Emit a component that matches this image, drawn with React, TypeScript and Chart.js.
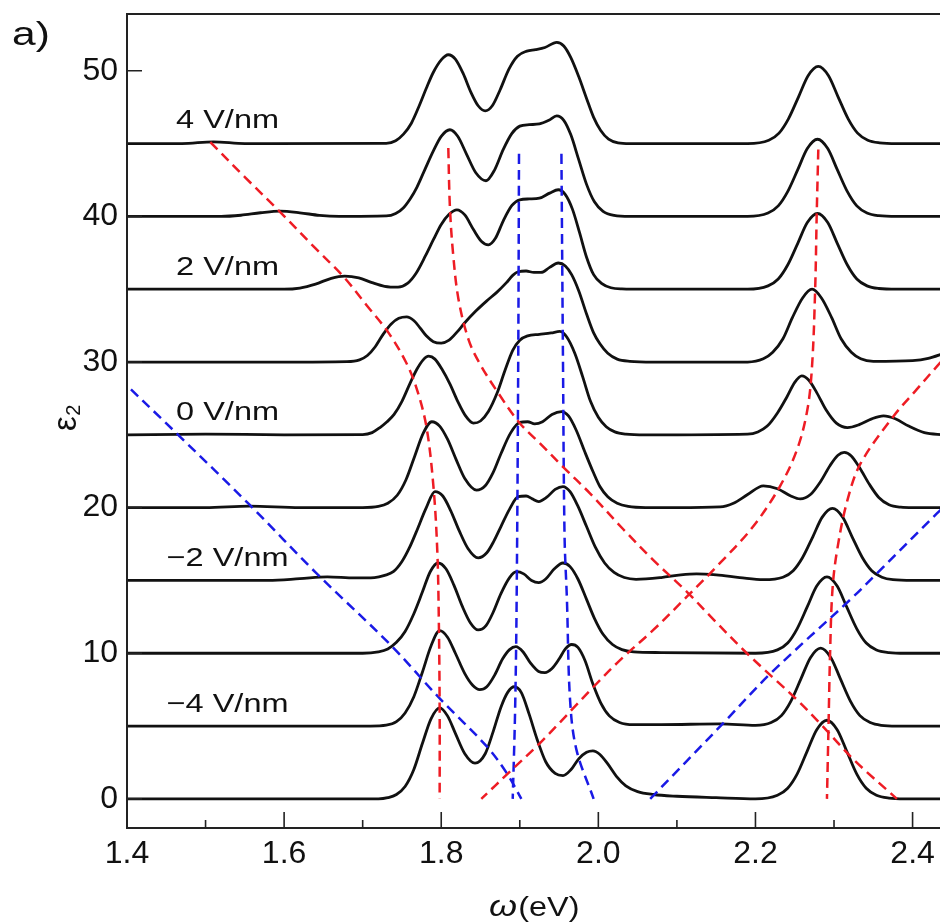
import React, { useEffect, useRef } from "react";
import { Chart, registerables } from "chart.js";

Chart.register(...registerables);

type Pt = [number, number];

// ---- axis ranges & ticks ----
const X_MIN = 1.4;
const X_MAX = 2.44;
const Y_MIN = -2;
const Y_MAX = 53.9;
const xTickValues = [1.4, 1.6, 1.8, 2.0, 2.2, 2.4];
const xMinorTickValues = [1.5, 1.7, 1.9, 2.1, 2.3];
const yTickValues = [0, 10, 20, 30, 40, 50];

// ---- ε2 spectra (plotted with vertical offset of 5 per field step) ----
const fieldM5: Pt[] = [
  [1.40, 0], [1.72, 0], [1.732, 0.08], [1.743, 0.3], [1.754, 0.85], [1.765, 2.0], [1.776, 3.8],
  [1.787, 5.5], [1.798, 6.25], [1.808, 5.7], [1.818, 4.5], [1.83, 3.1], [1.843, 2.45], [1.856, 3.1],
  [1.866, 4.6], [1.876, 6.3], [1.885, 7.35], [1.893, 7.7], [1.902, 7.3], [1.912, 5.8], [1.922, 4.1],
  [1.933, 2.55], [1.945, 1.75], [1.955, 1.6], [1.965, 2.0], [1.975, 2.75], [1.985, 3.2], [1.993, 3.3],
  [2.002, 3.05], [2.012, 2.4], [2.023, 1.55], [2.035, 0.9], [2.05, 0.5], [2.07, 0.3], [2.10, 0.18],
  [2.15, 0.08], [2.20, 0.0], [2.228, 0.25], [2.241, 0.73], [2.253, 1.7], [2.266, 3.3], [2.278, 4.75],
  [2.291, 5.4], [2.304, 4.75], [2.316, 3.3], [2.329, 1.7], [2.341, 0.73], [2.354, 0.25], [2.37, 0.05],
  [2.39, 0], [2.44, 0],
];
const fieldM4: Pt[] = [
  [1.40, 5], [1.71, 5], [1.73, 5.06], [1.743, 5.3], [1.754, 5.9], [1.765, 7.0], [1.776, 8.7],
  [1.787, 10.5], [1.798, 11.55], [1.808, 11.1], [1.818, 10.0], [1.83, 8.6], [1.84, 7.8], [1.849, 7.5],
  [1.858, 7.7], [1.868, 8.5], [1.878, 9.6], [1.887, 10.25], [1.895, 10.45], [1.904, 10.1], [1.914, 9.3],
  [1.924, 8.75], [1.932, 8.67], [1.941, 8.95], [1.95, 9.6], [1.958, 10.3], [1.966, 10.6], [1.974, 10.4],
  [1.983, 9.5], [1.993, 7.9], [2.003, 6.6], [2.014, 5.7], [2.027, 5.25], [2.045, 5.1], [2.08, 5.1],
  [2.155, 5.15], [2.2, 5.05], [2.22, 5.24], [2.233, 5.72], [2.245, 6.7], [2.258, 8.26], [2.27, 9.7],
  [2.283, 10.35], [2.296, 9.7], [2.308, 8.26], [2.321, 6.7], [2.333, 5.72], [2.346, 5.24], [2.36, 5.05],
  [2.38, 5], [2.44, 5],
];
const fieldM3: Pt[] = [
  [1.40, 10], [1.70, 10], [1.72, 10.1], [1.732, 10.3], [1.743, 10.75], [1.754, 11.5], [1.765, 12.7],
  [1.776, 14.2], [1.786, 15.6], [1.796, 16.2], [1.806, 15.8], [1.816, 14.7], [1.827, 13.2], [1.837, 12.1],
  [1.847, 11.6], [1.857, 11.9], [1.866, 12.8], [1.876, 14.1], [1.887, 15.2], [1.896, 15.6], [1.905, 15.45],
  [1.915, 15.0], [1.924, 14.85], [1.933, 15.1], [1.944, 15.8], [1.955, 16.2], [1.964, 15.95], [1.974, 15.1],
  [1.985, 13.7], [1.995, 12.4], [2.006, 11.3], [2.018, 10.6], [2.03, 10.25], [2.045, 10.1], [2.08, 10.05],
  [2.20, 10.0], [2.228, 10.23], [2.241, 10.7], [2.253, 11.68], [2.266, 13.2], [2.278, 14.62], [2.291, 15.25],
  [2.304, 14.62], [2.316, 13.2], [2.329, 11.68], [2.341, 10.7], [2.354, 10.23], [2.37, 10.05], [2.39, 10],
  [2.44, 10],
];
const fieldM2: Pt[] = [
  [1.40, 15], [1.58, 15], [1.62, 15.12], [1.655, 15.25], [1.69, 15.18], [1.715, 15.2], [1.728, 15.35],
  [1.739, 15.6], [1.75, 16.3], [1.76, 17.3], [1.768, 18.3], [1.781, 20.0], [1.792, 21.1], [1.802, 20.8],
  [1.812, 19.8], [1.823, 18.4], [1.834, 17.2], [1.847, 16.55], [1.858, 16.9], [1.867, 17.7], [1.876, 18.7],
  [1.887, 19.9], [1.898, 20.75], [1.908, 20.8], [1.916, 20.6], [1.924, 20.42], [1.934, 20.7], [1.945, 21.25],
  [1.955, 21.45], [1.964, 21.1], [1.974, 20.1], [1.985, 18.7], [1.996, 17.3], [2.008, 16.2], [2.02, 15.55],
  [2.033, 15.2], [2.048, 15.08], [2.08, 15.2], [2.105, 15.38], [2.125, 15.45], [2.15, 15.38], [2.18, 15.2],
  [2.21, 15.05], [2.235, 15.22], [2.248, 15.67], [2.26, 16.58], [2.273, 18.0], [2.285, 19.35], [2.298, 19.95],
  [2.311, 19.35], [2.323, 18.0], [2.336, 16.58], [2.348, 15.67], [2.361, 15.22], [2.375, 15.05], [2.40, 15],
  [2.44, 15],
];
const fieldM1: Pt[] = [
  [1.40, 20], [1.50, 20], [1.556, 20.1], [1.62, 20.0], [1.70, 20], [1.72, 20.08], [1.732, 20.3],
  [1.744, 20.85], [1.755, 21.9], [1.766, 23.5], [1.777, 25.1], [1.788, 25.9], [1.798, 25.6], [1.808, 24.7],
  [1.819, 23.3], [1.83, 22.0], [1.845, 21.2], [1.856, 21.5], [1.866, 22.4], [1.876, 23.7], [1.888, 25.1],
  [1.90, 25.85], [1.91, 25.9], [1.919, 25.75], [1.929, 25.9], [1.941, 26.4], [1.953, 26.6], [1.962, 26.3],
  [1.972, 25.3], [1.983, 23.8], [1.993, 22.5], [2.002, 21.45], [2.012, 20.75], [2.024, 20.3], [2.038, 20.08],
  [2.06, 20.0], [2.10, 20], [2.155, 20.05], [2.172, 20.3], [2.19, 20.9], [2.21, 21.5], [2.228, 21.3],
  [2.245, 20.8], [2.257, 20.6], [2.27, 20.9], [2.283, 21.8], [2.295, 22.9], [2.305, 23.6], [2.313, 23.8],
  [2.322, 23.55], [2.333, 22.7], [2.345, 21.6], [2.357, 20.7], [2.37, 20.2], [2.385, 20.03], [2.40, 20],
  [2.44, 20],
];
const field0: Pt[] = [
  [1.40, 25], [1.50, 25.05], [1.60, 25], [1.70, 25.02], [1.712, 25.15], [1.722, 25.5], [1.731, 25.9],
  [1.74, 26.4], [1.75, 27.3], [1.76, 28.5], [1.769, 29.5], [1.777, 30.15], [1.784, 30.4], [1.792, 30.2],
  [1.801, 29.5], [1.811, 28.5], [1.821, 27.3], [1.831, 26.3], [1.841, 25.8], [1.85, 25.95], [1.86, 26.6],
  [1.871, 27.85], [1.881, 29.4], [1.891, 30.8], [1.90, 31.5], [1.91, 31.8], [1.925, 31.9], [1.94, 32.0],
  [1.951, 32.1], [1.96, 31.7], [1.97, 30.6], [1.98, 29.0], [1.99, 27.3], [2.0, 26.2], [2.01, 25.55],
  [2.021, 25.2], [2.035, 25.05], [2.06, 25], [2.19, 25.05], [2.203, 25.2], [2.215, 25.6], [2.228, 26.5],
  [2.24, 27.6], [2.25, 28.6], [2.259, 29.05], [2.268, 28.75], [2.278, 27.9], [2.29, 26.7], [2.303, 25.8],
  [2.317, 25.5], [2.332, 25.7], [2.348, 26.1], [2.363, 26.3], [2.378, 26.1], [2.395, 25.6], [2.415, 25.15],
  [2.44, 25.0],
];
const fieldP1: Pt[] = [
  [1.40, 30], [1.60, 30], [1.68, 30.03], [1.696, 30.15], [1.706, 30.45], [1.716, 31.05], [1.726, 31.9],
  [1.736, 32.6], [1.746, 33.0], [1.756, 33.1], [1.765, 32.85], [1.773, 32.35], [1.781, 31.8], [1.79, 31.4],
  [1.80, 31.3], [1.81, 31.5], [1.82, 32.05], [1.83, 32.7], [1.844, 33.5], [1.858, 34.2], [1.871, 34.8],
  [1.883, 35.45], [1.891, 35.95], [1.898, 36.2], [1.908, 36.25], [1.918, 36.15], [1.927, 36.15], [1.938, 36.5],
  [1.949, 36.8], [1.958, 36.6], [1.966, 36.0], [1.975, 34.9], [1.985, 33.3], [1.994, 32.0], [2.002, 31.25],
  [2.012, 30.6], [2.024, 30.2], [2.04, 30.05], [2.07, 30], [2.19, 30], [2.21, 30.22], [2.222, 30.67],
  [2.235, 31.6], [2.247, 33.05], [2.26, 34.4], [2.272, 35.0], [2.284, 34.4], [2.297, 33.05], [2.309, 31.6],
  [2.322, 30.67], [2.334, 30.22], [2.35, 30.05], [2.40, 30.1], [2.42, 30.25], [2.44, 30.6],
];
const fieldP2: Pt[] = [
  [1.40, 35], [1.60, 35], [1.62, 35.08], [1.64, 35.35], [1.66, 35.75], [1.677, 35.9], [1.695, 35.78],
  [1.712, 35.45], [1.728, 35.2], [1.745, 35.14], [1.757, 35.4], [1.768, 36.1], [1.78, 37.3], [1.79, 38.4],
  [1.80, 39.45], [1.81, 40.15], [1.82, 40.45], [1.83, 40.1], [1.841, 39.1], [1.851, 38.3], [1.86, 38.05],
  [1.869, 38.5], [1.879, 39.7], [1.89, 40.75], [1.90, 41.14], [1.912, 41.2], [1.925, 41.25], [1.938, 41.6],
  [1.949, 41.83], [1.958, 41.5], [1.967, 40.5], [1.976, 38.9], [1.985, 37.2], [1.994, 36.0], [2.004, 35.4],
  [2.016, 35.1], [2.03, 35.02], [2.06, 35], [2.19, 35], [2.216, 35.23], [2.229, 35.7], [2.241, 36.66],
  [2.254, 38.17], [2.266, 39.58], [2.279, 40.2], [2.292, 39.58], [2.304, 38.17], [2.317, 36.66], [2.329, 35.7],
  [2.342, 35.23], [2.357, 35.05], [2.38, 35], [2.44, 35],
];
const fieldP3: Pt[] = [
  [1.40, 40], [1.52, 40], [1.545, 40.08], [1.57, 40.25], [1.595, 40.36], [1.62, 40.25], [1.645, 40.07],
  [1.67, 40], [1.73, 40.03], [1.742, 40.2], [1.752, 40.6], [1.761, 41.25], [1.769, 42.0], [1.779, 43.2],
  [1.79, 44.5], [1.80, 45.5], [1.811, 45.95], [1.821, 45.5], [1.832, 44.3], [1.844, 43.0], [1.857, 42.45],
  [1.868, 43.2], [1.879, 44.6], [1.89, 45.7], [1.90, 46.2], [1.912, 46.3], [1.925, 46.35], [1.937, 46.6],
  [1.947, 46.9], [1.956, 46.6], [1.965, 45.6], [1.975, 43.9], [1.985, 42.2], [1.995, 41.0], [2.006, 40.35],
  [2.02, 40.07], [2.04, 40], [2.19, 40], [2.216, 40.23], [2.229, 40.72], [2.241, 41.7], [2.254, 43.23],
  [2.266, 44.66], [2.279, 45.3], [2.292, 44.66], [2.304, 43.23], [2.317, 41.7], [2.329, 40.72], [2.342, 40.23],
  [2.357, 40.05], [2.38, 40], [2.44, 40],
];
const fieldP4: Pt[] = [
  [1.40, 45], [1.47, 45.0], [1.51, 45.12], [1.55, 45.0], [1.73, 45.02], [1.742, 45.2], [1.752, 45.65],
  [1.762, 46.4], [1.772, 47.6], [1.781, 48.8], [1.79, 49.9], [1.80, 50.75], [1.809, 51.1], [1.818, 50.8],
  [1.828, 49.8], [1.838, 48.5], [1.847, 47.6], [1.856, 47.25], [1.865, 47.6], [1.875, 48.7], [1.886, 50.1],
  [1.897, 51.0], [1.909, 51.35], [1.92, 51.45], [1.932, 51.6], [1.947, 51.95], [1.956, 51.7], [1.965, 50.9],
  [1.975, 49.6], [1.985, 48.1], [1.994, 46.8], [2.003, 45.9], [2.013, 45.3], [2.025, 45.05], [2.04, 45],
  [2.19, 45], [2.217, 45.23], [2.23, 45.72], [2.242, 46.7], [2.255, 48.23], [2.267, 49.66], [2.28, 50.3],
  [2.293, 49.66], [2.305, 48.23], [2.318, 46.7], [2.33, 45.72], [2.343, 45.23], [2.358, 45.05], [2.38, 45],
  [2.44, 45],
];

// ---- peak-tracking guide lines ----
const redTrack1: Pt[] = [
  [1.506, 45.1], [1.55, 42.7], [1.595, 40.3], [1.64, 37.8], [1.675, 35.9], [1.705, 33.9], [1.733, 32.0],
  [1.755, 30.0], [1.768, 28.3], [1.781, 25.6], [1.79, 21.5], [1.795, 17], [1.797, 12], [1.798, 6], [1.798, 0],
];
const redTrack2: Pt[] = [
  [1.809, 44.7], [1.811, 40.7], [1.815, 37.5], [1.822, 34.3], [1.835, 31.5], [1.849, 29.9], [1.871, 28.0],
  [1.90, 25.8], [1.926, 24.4], [1.955, 22.8], [1.989, 21.0], [2.032, 18.5], [2.07, 16.4], [2.113, 14.2],
  [2.147, 12.3], [2.189, 10.0], [2.253, 6.8], [2.282, 5.2], [2.325, 2.7], [2.38, 0],
];
const redTrack3: Pt[] = [
  [2.280, 44.6], [2.278, 40.2], [2.276, 35.0], [2.272, 29.7], [2.266, 26.7], [2.253, 24.0], [2.231, 21.45],
  [2.197, 18.7], [2.155, 16.2], [2.113, 13.9], [2.07, 11.6], [2.028, 9.55], [1.994, 7.7], [1.926, 3.85],
  [1.888, 1.9], [1.851, 0],
];
const redTrack4: Pt[] = [
  [2.45, 30.8], [2.431, 29.7], [2.405, 28.1], [2.376, 26.3], [2.334, 23.05], [2.317, 20.5], [2.304, 17.1],
  [2.298, 14.35], [2.295, 10], [2.293, 5], [2.291, 0],
];
const blueTrack1: Pt[] = [
  [1.39, 28.9], [1.467, 24.9], [1.556, 20.2], [1.641, 15.5], [1.735, 10.6], [1.798, 6.9], [1.858, 3.6],
  [1.883, 1.8], [1.902, 0],
];
const blueTrack2: Pt[] = [[1.899, 44.3], [1.898, 30], [1.896, 13.7], [1.894, 6], [1.891, 0]];
const blueTrack3: Pt[] = [
  [1.953, 44.3], [1.955, 30], [1.957, 18], [1.960, 13.7], [1.964, 6.8], [1.972, 3.4], [1.994, 0],
];
const blueTrack4: Pt[] = [
  [2.066, 0], [2.159, 5.2], [2.219, 8.6], [2.321, 13.7], [2.355, 15.5], [2.431, 19.6], [2.45, 20.5],
];

// ---- field annotations ----
const fieldLabels = ["4 V/nm", "2 V/nm", "0 V/nm", "\u22122 V/nm", "\u22124 V/nm"];
const fieldLabelY = [46.05, 36.0, 26.0, 16.0, 6.0];
const fieldLabelX = 1.528;

const FONT = "'Liberation Sans', Arial, Helvetica, sans-serif";
const RED = "rgb(238, 28, 36)";
const BLUE = "rgb(26, 26, 230)";

const spectra = [fieldM5, fieldM4, fieldM3, fieldM2, fieldM1, field0, fieldP1, fieldP2, fieldP3, fieldP4];
const redTracks = [redTrack1, redTrack2, redTrack3, redTrack4];
const blueTracks = [blueTrack1, blueTrack2, blueTrack3, blueTrack4];

const toXY = (pts: Pt[]) => pts.map(([x, y]) => ({ x, y }));

const decorPlugin = {
  id: "decor",
  afterDraw(chart: any) {
    const { ctx, chartArea } = chart;
    const xs = chart.scales.x;
    const ys = chart.scales.y;
    ctx.save();
    // frame
    ctx.strokeStyle = "#222";
    ctx.lineWidth = 2;
    ctx.beginPath();
    ctx.moveTo(chartArea.right + 5, chartArea.top);
    ctx.lineTo(chartArea.left, chartArea.top);
    ctx.lineTo(chartArea.left, chartArea.bottom);
    ctx.lineTo(chartArea.right + 5, chartArea.bottom);
    ctx.stroke();
    // inward ticks
    ctx.lineWidth = 1.6;
    ctx.beginPath();
    xTickValues.forEach((v) => {
      const p = xs.getPixelForValue(v);
      ctx.moveTo(p, chartArea.bottom);
      ctx.lineTo(p, chartArea.bottom - 16);
    });
    xMinorTickValues.forEach((v) => {
      const p = xs.getPixelForValue(v);
      ctx.moveTo(p, chartArea.bottom);
      ctx.lineTo(p, chartArea.bottom - 8);
    });
    yTickValues.forEach((v) => {
      const p = ys.getPixelForValue(v);
      ctx.moveTo(chartArea.left, p);
      ctx.lineTo(chartArea.left + 15, p);
    });
    ctx.stroke();

    ctx.fillStyle = "#111";
    // field labels
    ctx.font = `26px ${FONT}`;
    ctx.textAlign = "center";
    ctx.textBaseline = "alphabetic";
    fieldLabels.forEach((t, i) => {
      const px = xs.getPixelForValue(fieldLabelX);
      const py = ys.getPixelForValue(fieldLabelY[i]);
      ctx.save();
      ctx.translate(px, py);
      ctx.scale(1.25, 1);
      ctx.fillText(t, 0, 0);
      ctx.restore();
    });

    // x title: ω(eV)
    ctx.save();
    ctx.translate(489, 916);
    ctx.scale(1.2, 1);
    ctx.textAlign = "left";
    ctx.font = `italic 30px ${FONT}`;
    ctx.fillText("\u03c9", 0, 0);
    const wW = ctx.measureText("\u03c9").width;
    ctx.font = `27px ${FONT}`;
    ctx.fillText("(eV)", wW + 1, 0);
    ctx.restore();

    // y title: ε2
    ctx.save();
    ctx.translate(76, 431);
    ctx.rotate(-Math.PI / 2);
    ctx.textAlign = "left";
    ctx.font = `33px ${FONT}`;
    ctx.fillText("\u03b5", 0, 0);
    const eW = ctx.measureText("\u03b5").width;
    ctx.font = `20px ${FONT}`;
    ctx.fillText("2", eW + 0.5, 4);
    ctx.restore();

    // panel label
    ctx.save();
    ctx.translate(12, 45);
    ctx.scale(1.25, 1);
    ctx.font = `34px ${FONT}`;
    ctx.textAlign = "left";
    ctx.fillText("a)", 0, 0);
    ctx.restore();
    ctx.restore();
  },
};

export default function App() {
  const canvasRef = useRef<HTMLCanvasElement | null>(null);

  useEffect(() => {
    const canvas = canvasRef.current;
    if (!canvas) return;
    const datasets: any[] = [];
    redTracks.forEach((t) =>
      datasets.push({
        data: toXY(t),
        borderColor: RED,
        borderWidth: 2.5,
        borderDash: [10, 6],
        pointRadius: 0,
        tension: 0.35,
        fill: false,
      })
    );
    blueTracks.forEach((t) =>
      datasets.push({
        data: toXY(t),
        borderColor: BLUE,
        borderWidth: 2.5,
        borderDash: [10, 6],
        pointRadius: 0,
        tension: 0.35,
        fill: false,
      })
    );
    spectra.forEach((s) =>
      datasets.push({
        data: toXY(s),
        borderColor: "#111",
        borderWidth: 2.8,
        pointRadius: 0,
        cubicInterpolationMode: "monotone",
        fill: false,
      })
    );

    const chart = new Chart(canvas, {
      type: "line",
      data: { datasets },
      options: {
        responsive: false,
        animation: false,
        devicePixelRatio: 1,
        layout: { padding: { top: 14, right: 6, bottom: 0, left: 0 } },
        plugins: { legend: { display: false }, tooltip: { enabled: false } },
        scales: {
          x: {
            type: "linear",
            min: X_MIN,
            max: X_MAX,
            grid: { display: false, drawTicks: false },
            border: { display: false },
            ticks: {
              padding: 7,
              color: "#111",
              maxRotation: 0,
              autoSkip: false,
              font: { size: 32, family: FONT },
              callback: (v: any) => Number(v).toFixed(1),
            },
            afterBuildTicks: (axis: any) => {
              axis.ticks = xTickValues.map((v) => ({ value: v }));
            },
            afterFit: (s: any) => {
              s.height = 96;
              s.paddingLeft = 0;
              s.paddingRight = 0;
            },
          },
          y: {
            type: "linear",
            min: Y_MIN,
            max: Y_MAX,
            grid: { display: false, drawTicks: false },
            border: { display: false },
            ticks: {
              padding: 9,
              color: "#111",
              autoSkip: false,
              font: { size: 32, family: FONT },
              callback: (v: any) => String(v),
            },
            afterBuildTicks: (axis: any) => {
              axis.ticks = yTickValues.map((v) => ({ value: v }));
            },
            afterFit: (s: any) => {
              s.width = 127;
              s.paddingTop = 0;
              s.paddingBottom = 0;
            },
          },
        },
      },
      plugins: [decorPlugin],
    } as any);
    return () => chart.destroy();
  }, []);

  return (
    <div
      style={{
        position: "absolute",
        left: 0,
        top: 0,
        width: 940,
        height: 924,
        overflow: "hidden",
        background: "#fff",
      }}
    >
      <canvas ref={canvasRef} width={950} height={924} style={{ display: "block" }} />
    </div>
  );
}
